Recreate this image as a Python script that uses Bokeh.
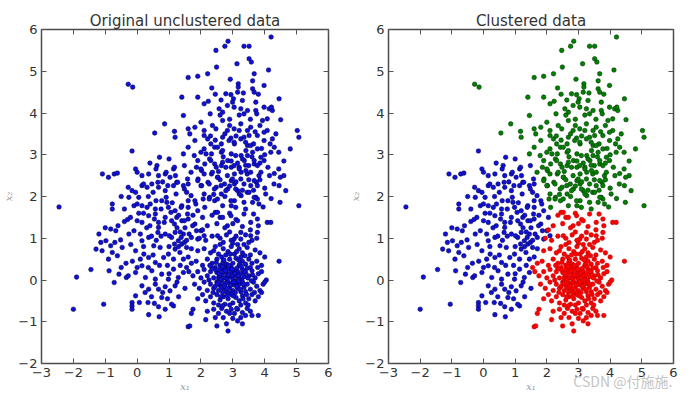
from bokeh.plotting import figure
from bokeh.layouts import row
from bokeh.models import FixedTicker, LinearAxis, Range1d, CustomJSTickFormatter
from bokeh.embed import file_html
from bokeh.resources import INLINE

# ---- data ----
titles = ["Original unclustered data", "Clustered data"]
x_ticks = [-3, -2, -1, 0, 1, 2, 3, 4, 5, 6]
y_ticks = [-2, -1, 0, 1, 2, 3, 4, 5, 6]
watermark = "CSDN @付施施."
watermark_x = [4.4]

blue_pts = [
    (-2.45, 1.75), (-1.9, 0.07), (-2.0, -0.7), (-1.05, -0.58), (-1.45, 0.25), (-0.16, 3.09), (0.7, 2.94),
    (-1.09, 2.54), (-0.9, 2.46), (-0.72, 2.54), (-0.62, 2.56), (-0.05, 2.66), (0.0, 2.58), (0.15, 2.5),
    (0.36, 2.54), (0.62, 2.74), (0.67, 2.5), (0.88, 2.54), (1.03, 2.46), (1.14, 2.66),
    (-0.28, 2.22), (-0.16, 2.14), (-0.05, 2.1), (0.15, 2.26), (0.31, 2.22), (0.46, 2.3), (0.67, 2.22),
    (0.88, 2.14), (1.14, 2.26), (1.24, 2.34), (1.45, 2.26), (1.6, 2.3), (1.55, 2.1), (-0.26, 1.98), (0.05, 1.98),
    (-0.78, 1.82), (-0.78, 1.7), (-0.1, 1.78), (0.0, 1.82), (0.15, 1.78), (0.31, 1.74), (0.41, 1.82),
    (0.57, 1.7), (0.77, 1.9), (0.93, 1.86), (0.98, 1.74), (1.19, 1.66), (1.4, 1.78), (1.6, 1.74), (1.81, 1.9),
    (-0.21, 1.5), (0.0, 1.42), (0.15, 1.38), (0.36, 1.54), (0.57, 1.58), (0.67, 1.38), (0.67, 1.26),
    (0.88, 1.5), (1.08, 1.42), (1.24, 1.5), (1.4, 1.42), (1.6, 1.46), (1.81, 1.34),
    (-0.83, 1.22), (-0.67, 1.18), (-1.14, 0.9), (-0.98, 0.94), (-0.83, 0.82), (-0.52, 0.96), (-0.26, 1.1),
    (-0.1, 1.18), (0.15, 0.94), (0.36, 1.02), (0.52, 0.82), (0.72, 0.78), (0.88, 1.1), (1.08, 1.02),
    (1.19, 1.14), (1.29, 0.94), (1.4, 0.86), (1.45, 1.1), (1.55, 0.78), (1.19, 0.74), (1.7, 1.02), (1.86, 1.18),
    (-1.29, 0.74), (-0.78, 0.66), (-0.62, 0.58), (-0.47, 0.78), (-0.05, 0.7), (0.21, 0.62), (0.36, 0.54),
    (0.57, 0.42), (0.83, 0.54), (0.98, 0.62), (1.14, 0.5), (1.34, 0.66), (1.45, 0.5),
    (-0.88, 0.22), (-0.57, 0.14), (-0.72, -0.06), (-0.34, 0.06), (-0.28, 0.1), (0.0, 0.3), (-0.05, 0.18),
    (0.15, 0.34), (0.26, 0.06), (0.46, 0.22), (0.57, 0.02), (0.77, 0.14), (0.98, 0.02), (1.14, 0.26),
    (1.29, 0.06), (1.45, 0.18),
    (-0.05, -0.38), (0.15, -0.14), (0.36, -0.22), (0.57, -0.1), (0.67, -0.22), (0.88, -0.16), (1.03, -0.26), (1.19, -0.14),
    (-0.16, -0.54), (-0.16, -0.62), (-0.16, -0.7), (0.07, -0.54), (0.34, -0.54), (0.54, -0.56), (0.67, -0.64),
    (0.88, -0.7), (1.14, -0.62), (0.77, -0.42), (0.36, -0.83), (0.69, -0.88), (1.08, -0.58),
    (0.59, 2.66), (0.91, 2.58), (1.17, 2.7), (1.48, 2.74), (1.58, 2.42), (0.65, 2.34), (0.96, 2.26),
    (1.27, 2.34), (1.48, 2.18), (1.22, 2.06), (0.91, 1.98), (0.59, 1.9), (1.69, 2.02), (1.84, 1.82),
    (0.75, 1.7), (1.06, 1.62), (1.38, 1.74), (1.58, 1.58), (1.9, 1.66), (2.05, 1.5), (0.54, 1.46),
    (0.85, 1.38), (1.17, 1.34), (1.48, 1.42), (1.74, 1.3), (2.0, 1.18), (0.65, 1.14), (1.01, 1.06),
    (1.38, 1.02), (1.63, 1.1), (1.9, 0.98), (2.1, 1.06), (1.48, 0.9), (1.17, 0.86),
    (-0.4, 1.4), (-0.6, 1.3), (-0.35, 0.4), (0.1, 1.1), (0.3, 1.25), (0.45, 1.05), (0.25, -0.3),
    (0.8, -0.3), (1.3, -0.4), (1.5, -0.2), (1.35, 0.35), (1.6, 0.55), (1.7, 0.75), (0.95, 0.35),
    (0.5, 0.6), (-0.15, 0.45), (0.1, 0.5), (-1.0, 1.25), (1.25, 1.25), (1.35, 1.15), (1.5, 1.25),
    (1.55, 0.95), (1.3, 0.8), (0.35, 2.0), (0.2, 1.6), (-0.5, 2.0), (-0.4, 1.7), (-1.2, 1.1),
    (-1.1, 0.7), (-0.9, 0.5), (1.0, 2.9), (0.4, 2.8),
    (0.2, 2.3), (0.5, 2.1), (0.8, 2.35), (1.1, 1.85), (1.3, 1.55), (0.4, 1.3), (0.75, 1.05), (1.0, 0.8),
    (0.6, 0.95), (0.2, 0.8), (-0.2, 0.85), (-0.5, 0.3), (0.35, 0.3), (0.7, 0.35), (1.0, 0.15), (1.25, -0.05),
    (0.45, -0.4), (0.95, -0.45), (-0.3, 1.45), (0.05, 1.6), (-0.7, 0.9), (1.6, 1.9), (1.75, 1.55), (1.2, 2.5),
]

green_pts = [
    (4.2, 5.82), (2.85, 5.72), (2.75, 5.6), (2.47, 5.5), (3.35, 5.6), (3.51, 5.6), (3.51, 5.3), (3.58, 5.22),
    (3.13, 5.18), (2.49, 5.1), (3.67, 4.94), (4.12, 5.03),
    (1.6, 4.85), (1.9, 4.88), (2.21, 4.94), (2.92, 4.81), (-0.28, 4.69), (-0.14, 4.62), (1.4, 4.38),
    (1.9, 4.38), (2.34, 4.6), (3.17, 4.7), (3.17, 4.62), (3.62, 4.77), (3.98, 4.66), (3.62, 4.58),
    (3.67, 4.5), (3.15, 4.5), (3.33, 4.48), (2.78, 4.46), (2.94, 4.44), (3.02, 4.34), (2.63, 4.31),
    (2.23, 4.28), (2.1, 4.22), (4.45, 4.34), (3.72, 4.26), (2.99, 4.26), (3.04, 4.14), (2.83, 4.18),
    (2.57, 4.1), (2.68, 4.02), (3.25, 4.1), (3.35, 3.98), (3.46, 4.06), (3.72, 4.06), (3.75, 3.98),
    (3.98, 4.14), (4.14, 4.1), (4.24, 4.06), (4.21, 4.14), (3.93, 3.82), (4.08, 3.86), (4.5, 3.84),
    (2.29, 3.98), (2.1, 3.58), (2.36, 3.7), (2.47, 3.62), (2.68, 3.82), (2.83, 3.58), (3.04, 3.62),
    (3.2, 3.58), (3.25, 3.74), (3.46, 3.58), (3.51, 3.46), (3.56, 3.66), (4.08, 3.58), (5.02, 3.58),
    (5.07, 3.42), (2.1, 3.46), (2.21, 3.38), (2.68, 3.42), (2.94, 3.4), (3.25, 3.38), (3.35, 3.42), (4.24, 3.38),
    (1.45, 3.94), (0.86, 3.74), (0.55, 3.52), (2.0, 3.78), (1.17, 3.56), (1.19, 3.42), (1.6, 3.62),
    (1.65, 3.5), (1.81, 3.66), (3.77, 3.46), (3.98, 3.54), (4.8, 3.14), (4.44, 3.06), (4.17, 3.26),
    (4.3, 3.18), (3.98, 3.34), (3.65, 3.26), (3.46, 3.22), (3.41, 3.1), (3.05, 3.26), (2.64, 3.26),
    (2.43, 3.18), (1.81, 3.34), (1.6, 3.18), (1.45, 3.02), (2.0, 3.06), (2.33, 3.02), (2.64, 3.06), (2.95, 3.02),
    (3.26, 2.98), (3.62, 3.06), (3.88, 2.94),
    (1.86, 2.7), (2.02, 2.62), (2.12, 2.78), (2.27, 2.9), (2.43, 2.78), (2.48, 2.7), (2.64, 2.74),
    (2.84, 2.86), (2.95, 2.7), (3.05, 2.54), (3.2, 2.7), (3.36, 2.86), (3.5, 2.74), (3.67, 2.78),
    (3.98, 2.86), (4.19, 3.06), (4.44, 2.66), (4.6, 2.5), (4.49, 2.46), (4.66, 2.14), (4.45, 2.26),
    (4.29, 2.3), (4.48, 1.86), (5.07, 1.78), (4.03, 2.06), (3.82, 2.5), (3.88, 2.58), (3.74, 2.34),
    (3.56, 2.26), (3.45, 2.1), (3.72, 1.98), (3.77, 1.94), (3.62, 1.86), (3.45, 2.54), (3.26, 2.58),
    (3.05, 2.3), (2.95, 2.38), (2.74, 2.3), (2.53, 2.46), (2.33, 2.54), (2.22, 2.34), (2.02, 2.26),
    (1.91, 2.42), (2.48, 2.22), (2.84, 2.18), (3.15, 2.14), (3.26, 2.02), (3.05, 1.9), (2.95, 1.78),
    (2.64, 2.06), (2.43, 1.9), (2.27, 1.98), (2.07, 1.94), (2.12, 1.74),
    (2.88, 3.34), (3.04, 3.3), (3.56, 3.22), (3.77, 3.14), (2.52, 3.18), (2.68, 3.1), (2.31, 3.26),
    (2.1, 3.14), (2.16, 3.02), (3.09, 2.98), (3.3, 2.9), (3.46, 2.98), (3.67, 2.86), (3.77, 2.74),
    (1.79, 2.98), (1.9, 2.86), (2.31, 2.86), (2.68, 2.82), (2.78, 2.7), (3.04, 2.74), (3.2, 2.66),
    (3.41, 2.62), (3.56, 2.58), (2.0, 2.66), (2.1, 2.54), (1.69, 2.58), (2.36, 2.58), (2.52, 2.46),
    (2.83, 2.5), (2.99, 2.42), (3.25, 2.42), (3.35, 2.3), (3.67, 2.38), (3.77, 2.26), (1.9, 2.38),
    (2.0, 2.26), (2.26, 2.3), (2.42, 2.18), (2.63, 2.26), (2.78, 2.14), (3.09, 2.18), (3.2, 2.06),
    (3.51, 2.1), (3.67, 1.98), (2.1, 2.06), (2.26, 1.94), (2.52, 1.94), (2.94, 1.9), (3.35, 1.86),
    (3.82, 1.82), (2.68, 1.78), (3.09, 1.74),
    (4.1, 2.7), (4.3, 2.55), (3.9, 3.15), (4.6, 2.85), (4.0, 2.2), (4.2, 1.95), (3.95, 1.75),
    (3.4, 1.7), (4.35, 3.5), (3.85, 3.7), (2.6, 3.95), (2.9, 3.85),
    (2.4, 2.05), (2.6, 2.4), (2.75, 2.0), (2.9, 2.25), (3.1, 2.35), (3.3, 2.15), (3.5, 2.4), (3.65, 2.15),
    (3.85, 2.4), (2.55, 2.6), (2.7, 2.95), (2.95, 2.85), (3.15, 2.8), (3.4, 2.75), (3.6, 2.95), (3.85, 2.8),
    (2.45, 3.35), (2.75, 3.5), (3.1, 3.45), (3.4, 3.3), (3.7, 3.55), (2.9, 3.7), (3.2, 3.95), (3.55, 3.85),
    (2.3, 3.45), (4.0, 3.0), (4.15, 2.5), (3.3, 4.3), (2.45, 4.45), (3.8, 4.45),
]

red_pts = [
    (2.35, 1.55), (2.45, 1.62), (2.9, 1.6), (3.65, 1.58), (2.6, 1.5), (3.1, 1.45),
    (2.52, 1.62), (2.68, 1.5), (2.94, 1.54), (3.15, 1.42), (3.35, 1.58), (3.56, 1.38), (3.77, 1.46),
    (2.83, 1.3), (3.25, 1.14), (3.56, 1.06), (3.04, 0.98), (2.52, 1.06), (3.77, 1.14),
    (2.2, 1.3), (2.5, 1.35), (2.75, 1.25), (3.0, 1.35), (3.3, 1.28), (3.55, 1.2), (4.08, 1.38),
    (4.19, 1.38), (2.05, 1.2), (3.8, 1.3), (2.9, 1.15),
    (1.95, 1.0), (2.15, 0.95), (2.35, 1.05), (2.6, 1.0), (2.8, 1.08), (2.95, 0.95), (3.1, 1.05),
    (3.25, 0.98), (3.4, 1.08), (3.6, 0.95), (3.75, 1.0), (2.7, 0.9), (3.0, 0.88), (3.5, 0.9),
    (1.9, 0.7), (2.1, 0.75), (2.3, 0.65), (2.45, 0.8), (2.55, 0.62), (2.7, 0.75), (2.85, 0.68),
    (2.95, 0.8), (3.05, 0.62), (3.2, 0.75), (3.3, 0.65), (3.45, 0.78), (3.55, 0.6), (3.7, 0.72),
    (3.85, 0.65), (4.0, 0.55), (2.6, 0.85), (3.15, 0.85), (3.35, 0.85), (2.4, 0.7),
    (1.7, 0.4), (1.85, 0.45), (2.05, 0.35), (2.2, 0.5), (2.35, 0.4), (2.5, 0.5), (2.6, 0.35),
    (2.7, 0.45), (2.8, 0.38), (2.9, 0.5), (3.0, 0.4), (3.1, 0.52), (3.2, 0.35), (3.3, 0.45),
    (3.4, 0.38), (3.5, 0.5), (3.6, 0.4), (3.75, 0.45), (3.9, 0.35), (4.45, 0.45), (2.65, 0.55),
    (2.95, 0.3), (3.25, 0.55), (3.55, 0.3), (2.45, 0.3), (2.75, 0.3),
    (1.55, 0.3), (1.62, 0.2), (1.75, 0.1), (1.9, 0.2), (2.0, 0.05), (2.1, 0.25), (2.2, 0.1),
    (2.3, 0.2), (2.4, 0.05), (2.5, 0.18), (2.55, 0.05), (2.6, 0.25), (2.65, 0.12), (2.7, 0.2),
    (2.75, 0.05), (2.8, 0.15), (2.85, 0.25), (2.9, 0.08), (2.95, 0.18), (3.0, 0.02), (3.05, 0.22),
    (3.1, 0.1), (3.15, 0.2), (3.2, 0.05), (3.25, 0.15), (3.3, 0.25), (3.35, 0.08), (3.4, 0.18),
    (3.5, 0.1), (3.6, 0.22), (3.7, 0.05), (3.8, 0.15), (3.9, 0.2), (4.05, 0.0), (2.45, 0.25),
    (2.72, 0.28), (3.45, 0.28), (2.35, 0.28), (2.58, 0.1), (2.82, 0.02), (3.12, 0.28), (3.28, 0.0),
    (1.8, -0.1), (1.95, -0.2), (2.1, -0.05), (2.2, -0.25), (2.3, -0.1), (2.4, -0.2), (2.5, -0.05),
    (2.55, -0.25), (2.6, -0.12), (2.65, -0.02), (2.7, -0.2), (2.75, -0.1), (2.8, -0.28), (2.85, -0.05),
    (2.9, -0.18), (2.95, -0.08), (3.0, -0.25), (3.05, -0.12), (3.1, -0.02), (3.15, -0.2), (3.2, -0.1),
    (3.25, -0.28), (3.3, -0.05), (3.35, -0.18), (3.45, -0.1), (3.55, -0.22), (3.65, -0.05),
    (3.75, -0.15), (3.85, -0.25), (3.95, -0.1), (4.0, -0.05), (2.45, -0.15), (2.68, -0.3),
    (2.92, -0.3), (3.18, -0.02), (3.4, -0.28),
    (1.9, -0.45), (2.05, -0.35), (2.15, -0.5), (2.3, -0.4), (2.4, -0.55), (2.5, -0.35), (2.6, -0.48),
    (2.7, -0.4), (2.75, -0.58), (2.85, -0.45), (2.95, -0.35), (3.0, -0.55), (3.1, -0.42), (3.2, -0.5),
    (3.3, -0.38), (3.4, -0.55), (3.5, -0.45), (3.6, -0.35), (3.7, -0.5), (3.8, -0.4), (3.9, -0.3),
    (2.55, -0.6), (3.25, -0.6), (2.9, -0.6),
    (1.7, -0.8), (1.75, -0.7), (2.2, -0.75), (2.4, -0.7), (2.55, -0.8), (2.65, -0.68), (2.8, -0.75),
    (2.95, -0.7), (3.05, -0.8), (3.15, -0.7), (3.3, -0.78), (3.45, -0.68), (3.55, -0.75), (3.6, -0.85),
    (3.8, -0.85), (2.7, -0.9), (3.0, -0.92), (3.25, -0.9),
    (1.6, -1.12), (1.65, -1.1), (2.15, -0.95), (2.5, -1.1), (2.85, -1.22), (2.8, -1.05), (3.3, -1.05), (3.15, -0.98),
    (2.62, 0.02), (2.78, -0.08), (2.98, 0.12), (3.08, -0.05), (2.88, 0.35), (3.22, 0.38), (2.68, 0.38),
    (3.02, -0.38), (2.78, 0.6), (3.12, 0.68),
    (2.52, -0.08), (2.57, 0.15), (2.63, -0.18), (2.67, 0.32), (2.73, -0.14), (2.77, 0.22), (2.83, -0.2),
    (2.87, 0.12), (2.93, -0.12), (2.97, 0.26), (3.03, -0.05), (3.07, 0.16), (3.13, -0.15), (3.17, 0.1),
    (3.23, -0.22), (3.27, 0.32), (3.33, -0.1), (3.37, 0.2), (3.43, -0.35), (3.47, 0.05), (2.62, -0.4),
    (2.82, -0.38), (3.08, -0.3), (3.32, -0.45), (2.72, 0.48), (2.92, 0.62), (3.18, 0.48), (3.38, 0.58),
    (2.48, 0.42), (3.62, 0.12), (3.68, -0.3), (2.38, -0.3), (2.28, 0.35), (3.78, 0.3), (3.48, -0.6),
    (2.68, -0.62), (3.12, -0.68), (2.9, -0.8), (3.4, -0.85), (2.45, -0.9), (2.25, 0.0), (3.58, -0.02),
]

FONT = "DejaVu Sans"
BLANK = CustomJSTickFormatter(code="return ''")


def make_fig(title, width, left_border, right_border):
    p = figure(width=width, height=396, x_range=Range1d(-3, 6), y_range=Range1d(-2, 6),
               output_backend="svg", toolbar_location=None, title=title,
               min_border_left=left_border, min_border_right=right_border,
               min_border_top=29, min_border_bottom=33)
    p.title.align = "center"
    p.title.text_font = FONT
    p.title.text_font_size = "15px"
    p.title.text_font_style = "normal"
    p.title.text_color = "#333333"
    p.title.standoff = 0
    p.title.offset = 0
    p.xgrid.visible = False
    p.ygrid.visible = False
    p.outline_line_color = "#4a4a4a"
    p.outline_line_width = 1.5
    for ax, ticks in ((p.xaxis[0], x_ticks), (p.yaxis[0], y_ticks)):
        ax.ticker = FixedTicker(ticks=ticks)
        ax.major_label_overrides = {t: ("\u2212" + str(-t)) for t in ticks if t < 0}
        ax.major_label_text_font = FONT
        ax.major_label_text_font_size = "13px"
        ax.major_label_text_color = "#333333"
        ax.major_label_standoff = 4
        ax.major_tick_in = 5
        ax.major_tick_out = 0
        ax.major_tick_line_color = "#555555"
        ax.minor_tick_line_color = None
        ax.axis_line_color = None
        ax.axis_label_text_font = "DejaVu Serif"
        ax.axis_label_text_font_style = "italic"
        ax.axis_label_text_font_size = "10px"
        ax.axis_label_text_color = "#9a9a9a"
        ax.axis_label_standoff = 1
    p.xaxis[0].axis_label = "x\u2081"
    p.yaxis[0].axis_label = "x\u2082"
    for loc, ticks in (("above", x_ticks), ("right", y_ticks)):
        ax = LinearAxis(ticker=FixedTicker(ticks=ticks), formatter=BLANK,
                        major_label_standoff=0, major_tick_in=5, major_tick_out=0,
                        major_tick_line_color="#555555", minor_tick_line_color=None,
                        axis_line_color=None)
        p.add_layout(ax, loc)
    return p


def xs(pts):
    return [a for a, b in pts]


def ys(pts):
    return [b for a, b in pts]


p1 = make_fig(titles[0], 347, 38, 19)
all_pts = blue_pts + green_pts + red_pts
p1.scatter(xs(all_pts), ys(all_pts), size=4.6, fill_color="#1010d8", line_color="#000048", line_width=0.5)

p2 = make_fig(titles[1], 345, 38, 19)
p2.scatter(xs(blue_pts), ys(blue_pts), size=4.6, fill_color="#1010d8", line_color="#000048", line_width=0.5)
p2.scatter(xs(green_pts), ys(green_pts), size=4.6, fill_color="#008000", line_color="#002a00", line_width=0.5)
p2.scatter(xs(red_pts), ys(red_pts), size=4.6, fill_color="#ff0000", line_color="#b00000", line_width=0.5)

# watermark drawn as the single label of an extra, line-less axis pulled up into the tick-label row
wm_axis = LinearAxis(ticker=FixedTicker(ticks=watermark_x),
                     formatter=CustomJSTickFormatter(code="return '" + watermark + "'"),
                     major_label_standoff=-24, major_tick_in=0, major_tick_out=0,
                     major_tick_line_color=None, minor_tick_line_color=None, axis_line_color=None,
                     major_label_text_font="Noto Sans CJK SC", major_label_text_font_size="14px",
                     major_label_text_color="#c4c4c4")
p2.add_layout(wm_axis, "below")

layout = row(p1, p2)
open("out.html", "w").write(file_html(layout, INLINE))
